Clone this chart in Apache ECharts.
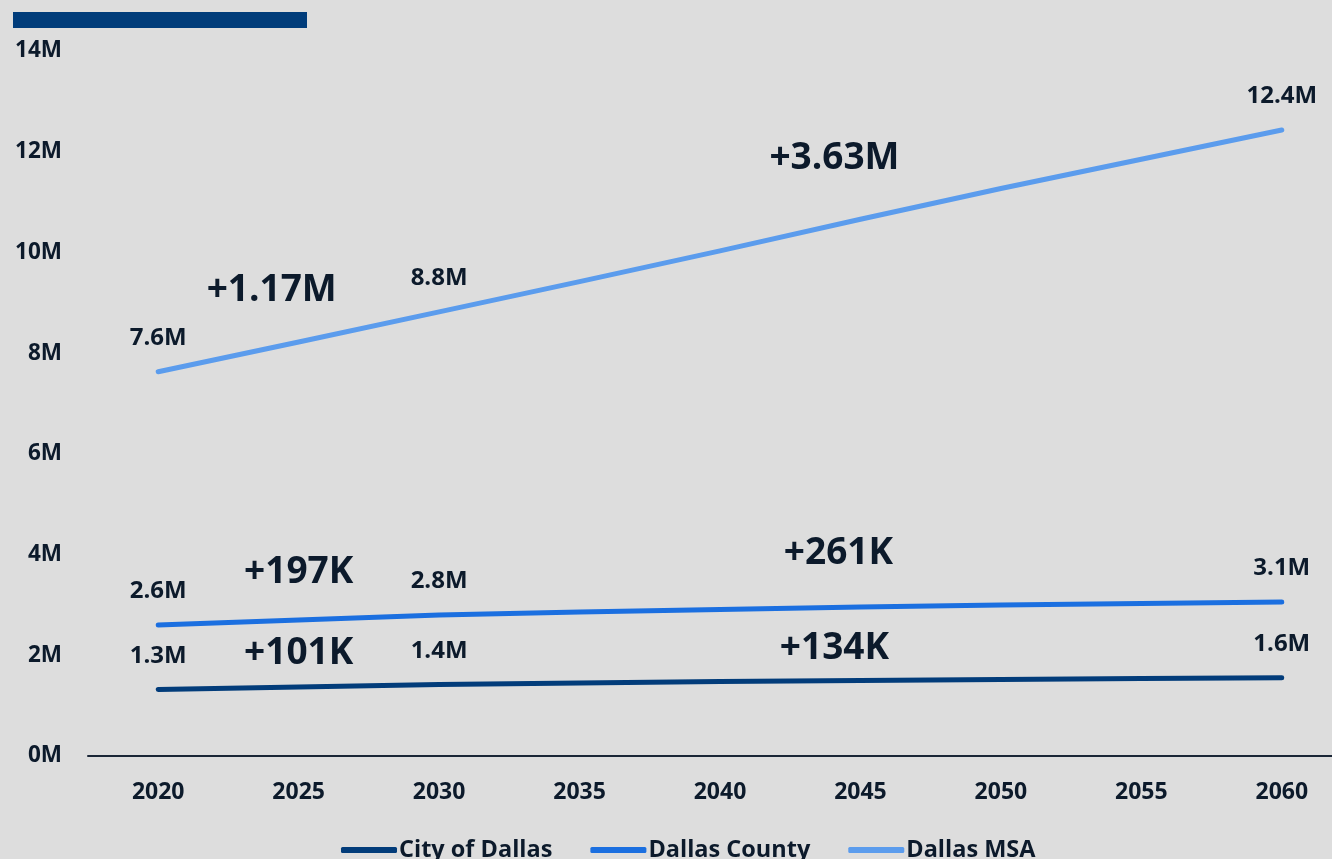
<!DOCTYPE html>
<html>
<head>
<meta charset="utf-8">
<script src="https://cdn.jsdelivr.net/npm/echarts@6/dist/echarts.min.js"></script>
<style>
  html, body { margin: 0; padding: 0; background: #dddddd; }
  #chart { width: 1332px; height: 859px; }
</style>
</head>
<body>
<div id="chart"></div>
<script>
// ---- data ----
const years = ['2020', '2025', '2030', '2035', '2040', '2045', '2050', '2055', '2060'];
const seriesNames = ['City of Dallas', 'Dallas County', 'Dallas MSA'];
const cityValues   = [1.32, 1.37, 1.42, 1.45, 1.48, 1.50, 1.52, 1.54, 1.555];
const countyValues = [2.60, 2.70, 2.80, 2.86, 2.91, 2.96, 3.00, 3.03, 3.06];
const msaValues    = [7.63, 8.22, 8.82, 9.42, 10.03, 10.66, 11.27, 11.85, 12.43];
const cityLabels   = ['1.3M', '', '1.4M', '', '', '', '', '', '1.6M'];
const countyLabels = ['2.6M', '', '2.8M', '', '', '', '', '', '3.1M'];
const msaLabels    = ['7.6M', '', '8.8M', '', '', '', '', '', '12.4M'];
const yTicks = [0, 2, 4, 6, 8, 10, 12, 14];
// growth annotations: [first period, second period]
const cityChange   = ['+101K', '+134K'];
const countyChange = ['+197K', '+261K'];
const msaChange    = ['+1.17M', '+3.63M'];

// ---- styling / layout ----
const FONT = '"Open Sans", "Noto Sans", sans-serif';
const TEXT = '#0c1a2b';
const colors = ['#023c7a', '#1b6fe0', '#5b9ced'];

function annot(texts, anchors) {
  return {
    symbol: 'circle',
    symbolSize: 1,
    silent: true,
    itemStyle: { color: 'rgba(0,0,0,0)' },
    label: { show: true, position: 'inside', fontFamily: FONT, fontWeight: 700, fontSize: 37, color: TEXT },
    data: texts.map((t, i) => ({
      coord: [anchors[i][0], anchors[i][1]],
      label: { formatter: t, offset: [anchors[i][2], 0] }
    }))
  };
}

function makeSeries(name, values, labels, color, mp) {
  return {
    name: name,
    type: 'line',
    data: values,
    showSymbol: true,
    showAllSymbol: true,
    symbol: 'circle',
    symbolSize: 1,
    lineStyle: { width: 5, color: color, cap: 'round', join: 'round' },
    itemStyle: { color: color },
    label: {
      show: true, position: 'top', distance: 21,
      fontFamily: FONT, fontWeight: 700, fontSize: 24, color: TEXT,
      formatter: p => labels[p.dataIndex]
    },
    labelLayout: { hideOverlap: false },
    emphasis: { disabled: true },
    markPoint: mp,
    z: 3
  };
}

const chart = echarts.init(document.getElementById('chart'), null, { renderer: 'canvas' });
const option = {
  backgroundColor: '#dddddd',
  animation: false,
  color: colors,
  grid: { left: 88, top: 51, height: 705, width: 1264, containLabel: false, outerBoundsMode: 'none' },
  xAxis: {
    type: 'category',
    data: years,
    boundaryGap: true,
    axisLine: { show: true, lineStyle: { color: '#1a2636', width: 2 } },
    axisTick: { show: false },
    axisLabel: { margin: 25, fontFamily: FONT, fontWeight: 700, fontSize: 23, color: TEXT },
    splitLine: { show: false }
  },
  yAxis: {
    type: 'value',
    min: yTicks[0], max: yTicks[yTicks.length - 1], interval: 2,
    axisLine: { show: false },
    axisTick: { show: false },
    splitLine: { show: false },
    axisLabel: { margin: 26, padding: [5, 0, 0, 0], fontFamily: FONT, fontWeight: 700, fontSize: 22.5, color: TEXT, formatter: v => v + 'M' }
  },
  legend: {
    data: seriesNames.map((n, i) => ({ name: n, itemStyle: { color: colors[i], opacity: 1 } })),
    left: 336, top: 833,
    icon: 'roundRect',
    itemWidth: 56, itemHeight: 6, itemGap: 38,
    textStyle: { fontFamily: FONT, fontWeight: 700, fontSize: 23.5, color: TEXT, padding: [0, 0, 0, -3] }
  },
  graphic: [{
    type: 'rect', left: 13, top: 12, shape: { width: 294, height: 16 }, style: { fill: '#003c7a' }
  }],
  series: [
    makeSeries(seriesNames[0], cityValues, cityLabels, colors[0],
      annot(cityChange, [['2025', 2.03, 0], ['2045', 2.14, -26]])),
    makeSeries(seriesNames[1], countyValues, countyLabels, colors[1],
      annot(countyChange, [['2025', 3.65, 0], ['2045', 4.03, -22]])),
    makeSeries(seriesNames[2], msaValues, msaLabels, colors[2],
      annot(msaChange, [['2025', 9.25, -27], ['2045', 11.87, -26]]))
  ]
};
chart.setOption(option);
</script>
</body>
</html>
